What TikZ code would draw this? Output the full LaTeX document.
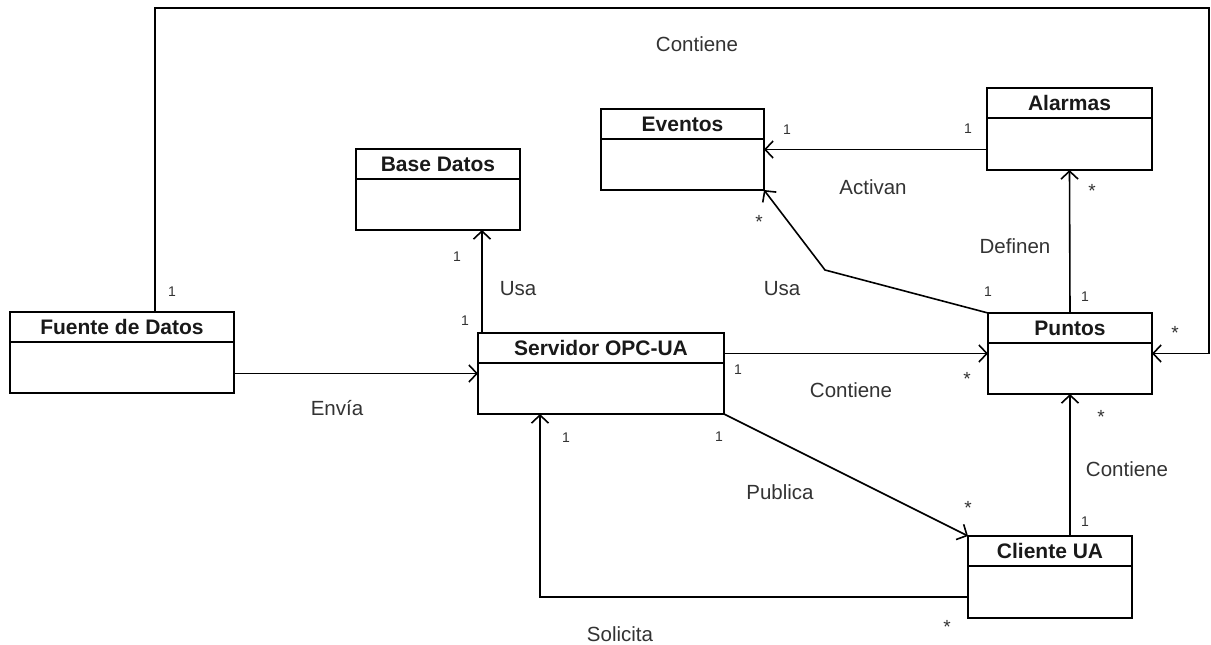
\documentclass[tikz,border=0pt]{standalone}
\usepackage{fontspec}
\setmainfont{Liberation Sans}
\usetikzlibrary{arrows.meta,calc}

\tikzset{
  classbox/.style={draw=black, line width=1.7pt, fill=white, rectangle,
    inner sep=0pt, outer sep=0pt, anchor=north west},
  classline/.style={draw=black, line width=1.7pt},
  classtitle/.style={font=\fontsize{21}{24}\selectfont\bfseries, text=black!90, inner sep=0pt},
  assoc/.style={draw=black, line width=1.6pt,
    -{Straight Barb[length=8pt,width=17pt,line width=1.6pt]}},
  rolelabel/.style={font=\fontsize{20.5}{24}\selectfont, text=black!80, inner sep=0pt},
  mult/.style={font=\fontsize{14}{16}\selectfont, text=black!80, inner sep=0pt},
  starmult/.style={font=\fontsize{19}{20}\selectfont, text=black!80, inner sep=0pt},
}

% a UML class: name, left, top, width, height, title
\newcommand\umlclass[6]{%
  \node[classbox, minimum width=#4pt, minimum height=#5pt] (#1) at (#2,#3) {};
  \draw[classline] ([yshift=-30pt]#1.north west) -- ([yshift=-30pt]#1.north east);
  \node[classtitle] at ([yshift=-15pt]#1.north) {#6};
}

\begin{document}
\begin{tikzpicture}[x=1pt,y=-1pt]
\useasboundingbox[fill=white] (0,0) rectangle (1211,645);

% classes
\umlclass{fuente}{10}{312}{224}{81}{Fuente de Datos}
\umlclass{based}{356}{149}{164}{81}{Base Datos}
\umlclass{eventos}{601}{109}{163}{81}{Eventos}
\umlclass{alarmas}{987}{88}{165}{82}{Alarmas}
\umlclass{servidor}{478}{333}{246}{81}{Servidor OPC-UA}
\umlclass{puntos}{988}{313}{164}{81}{Puntos}
\umlclass{cliente}{968}{536}{164}{82}{Cliente UA}

% bend points
\coordinate (topright) at (1209,8);
\coordinate (usabend) at (825,270);

% associations
\draw[assoc] ([xshift=145pt]fuente.north west) |- (topright) |- (puntos.east);
\draw[assoc] (fuente.east |- servidor.west) -- (servidor.west);
\draw[assoc] ([xshift=4pt]servidor.north west) -- ([xshift=4pt]servidor.north west |- based.south);
\draw[assoc] (servidor.east |- puntos.west) -- (puntos.west);
\draw[assoc] (alarmas.west |- eventos.east) -- (eventos.east);
\draw[assoc] (puntos.north) -- (alarmas.south);
\draw[assoc] (cliente.north -| puntos.south) -- (puntos.south);
\draw[assoc] (servidor.south east) -- (cliente.north west);
\draw[assoc] ([yshift=-20pt]cliente.west) -| ([xshift=62pt]servidor.south west);
\draw[assoc] (puntos.north west) -- (usabend) -- (eventos.south east);

% role names
\node[rolelabel] (lcont1) at (697,44) {Contiene};
\node[rolelabel] (lenvia) at (337,408) {Envía};
\node[rolelabel] (lusa1) at (518,289) {Usa};
\node[rolelabel] (lusa2) at (782,289) {Usa};
\node[rolelabel] (ldef) at (1015,246) {Definen};
\node[rolelabel] (lact) at (873,187) {Activan};
\node[rolelabel] (lcont2) at (851,390) {Contiene};
\node[rolelabel] (lcont3) at (1127,469) {Contiene};
\node[rolelabel] (lpub) at (780,492) {Publica};
\node[rolelabel] (lsol) at (620,634) {Solicita};

% multiplicities
\node[mult] (m1) at (172,292) {1};
\node[starmult] (m2) at (1175,333) {*};
\node[mult] (m3) at (457,257) {1};
\node[mult] (m4) at (465,321) {1};
\node[starmult] (m5) at (759,222) {*};
\node[mult] (m6) at (988,292) {1};
\node[mult] (m7) at (1085,297) {1};
\node[starmult] (m8) at (1092,191) {*};
\node[mult] (m9) at (787,130) {1};
\node[mult] (m10) at (968,129) {1};
\node[mult] (m11) at (738,370) {1};
\node[starmult] (m12) at (967,379) {*};
\node[starmult] (m13) at (1101,417) {*};
\node[mult] (m14) at (1085,522) {1};
\node[mult] (m15) at (566,438) {1};
\node[mult] (m16) at (719,437) {1};
\node[starmult] (m17) at (968,508) {*};
\node[starmult] (m18) at (947,627) {*};
\end{tikzpicture}
\end{document}
